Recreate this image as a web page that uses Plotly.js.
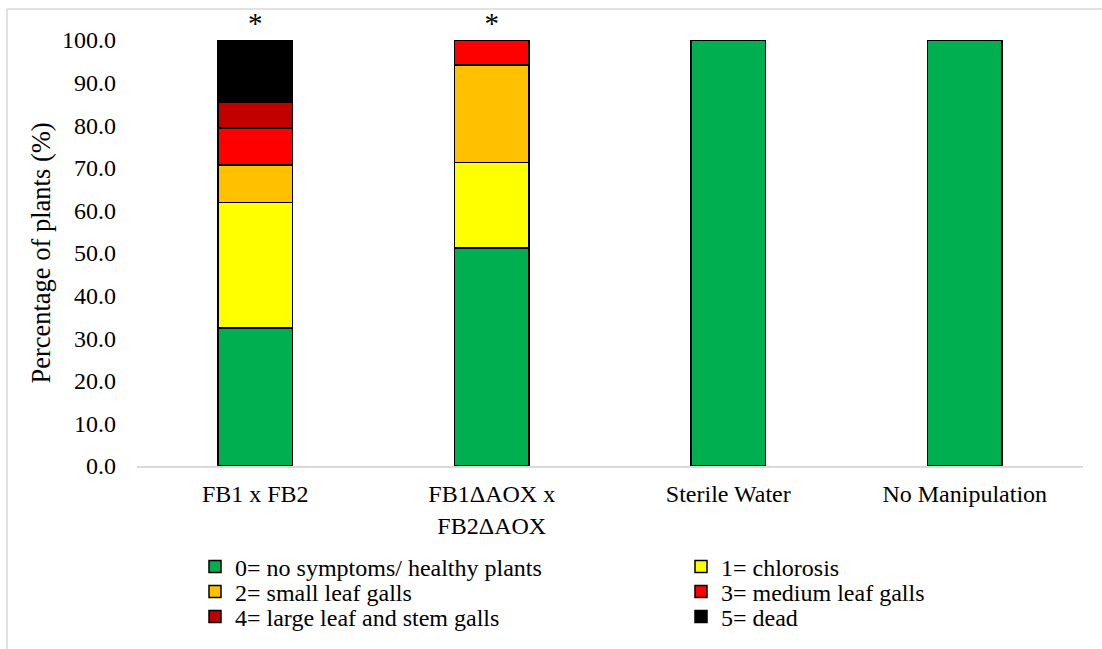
<!DOCTYPE html>
<html>
<head>
<meta charset="utf-8">
<script src="https://cdn.plot.ly/plotly-3.0.1.min.js"></script>
<style>html,body{margin:0;padding:0;background:#fff;}#chart{width:1102px;height:649px;}</style>
</head>
<body>
<div id="chart"></div>
<script>
const categories = ["FB1 x FB2", "FB1ΔAOX x<br>FB2ΔAOX", "Sterile Water", "No Manipulation"];
const score0 = [32.4, 51.2, 100, 100];
const score1 = [29.4, 20.1, 0, 0];
const score2 = [8.8, 22.8, 0, 0];
const score3 = [8.8, 5.9, 0, 0];
const score4 = [5.9, 0, 0, 0];
const score5 = [14.7, 0, 0, 0];
const seriesNames = ["0= no symptoms/ healthy plants", "1= chlorosis", "2= small leaf galls", "3= medium leaf galls", "4= large leaf and stem galls", "5= dead"];
const seriesColors = ["#00B050", "#FFFF00", "#FFC000", "#FF0000", "#C00000", "#000000"];
const significance = ["*", "*", "", ""];

const FONT = 'Times New Roman, Liberation Serif, serif';
const W = 1102, H = 649;
const pl = 137, pr = 1083, pt = 40, pb = 466;
const pw = pr - pl, ph = pb - pt;
const px = v => (v - pl) / pw;
const py = v => (pb - v) / ph;

const allSeries = [score0, score1, score2, score3, score4, score5];
const legendIds = ['legend', 'legend2', 'legend3', 'legend4', 'legend5', 'legend6'];
const traces = allSeries.map((vals, i) => ({
  type: 'bar',
  name: seriesNames[i],
  x: categories,
  y: vals,
  legend: legendIds[i],
  marker: {color: seriesColors[i], line: {color: '#000000', width: 1.5}},
  hoverinfo: 'skip'
}));

const totals = categories.map((c, j) => Math.round(allSeries.reduce((s, a) => s + a[j], 0) * 10) / 10);
traces.push({
  type: 'scatter', mode: 'text', x: categories, y: totals, text: significance,
  textposition: 'top center', textfont: {family: FONT, size: 29, color: '#000'},
  cliponaxis: false, showlegend: false, hoverinfo: 'skip'
});

const legendCommon = {
  orientation: 'v', yanchor: 'middle', xanchor: 'left',
  font: {family: FONT, size: 24, color: '#000'}, itemwidth: 30, tracegroupgap: 0,
  bgcolor: 'rgba(0,0,0,0)', borderwidth: 0
};
const colX = [195, 681];
const rowY = [567, 592, 617];

const layout = {
  width: W, height: H,
  margin: {l: pl, r: W - pr, t: pt, b: H - pb, autoexpand: false},
  paper_bgcolor: '#fff', plot_bgcolor: '#fff',
  barmode: 'stack',
  bargap: 0.684,
  font: {family: FONT, size: 24, color: '#000'},
  xaxis: {
    showgrid: false, zeroline: false, showline: true, linecolor: '#d9d9d9', linewidth: 1.5,
    ticks: '', ticklabelstandoff: 6, tickangle: 0, tickfont: {family: FONT, size: 24, color: '#000'}, fixedrange: true, automargin: false
  },
  yaxis: {
    range: [0, 100], tickvals: [0,10,20,30,40,50,60,70,80,90,100],
    ticktext: ['0.0','10.0','20.0','30.0','40.0','50.0','60.0','70.0','80.0','90.0','100.0'],
    showgrid: false, zeroline: false, showline: false, ticks: '',
    ticklabelstandoff: 20, tickfont: {family: FONT, size: 24, color: '#000'}, automargin: false,
    title: {text: 'Percentage of plants (%)', font: {family: FONT, size: 26.5, color: '#000'}, standoff: 3}
  },
  shapes: [
    {type: 'line', xref: 'paper', yref: 'paper', x0: px(7), x1: px(1102), y0: py(9), y1: py(9), line: {color: '#d9d9d9', width: 1.5}},
    {type: 'line', xref: 'paper', yref: 'paper', x0: px(7), x1: px(7), y0: py(9), y1: py(649), line: {color: '#d9d9d9', width: 1.5}}
  ],
  showlegend: true
};
legendIds.forEach((id, i) => {
  layout[id] = Object.assign({}, legendCommon, {x: px(colX[i % 2]), y: py(rowY[Math.floor(i / 2)])});
});

Plotly.newPlot('chart', traces, layout, {displayModeBar: false, staticPlot: true});
</script>
</body>
</html>
